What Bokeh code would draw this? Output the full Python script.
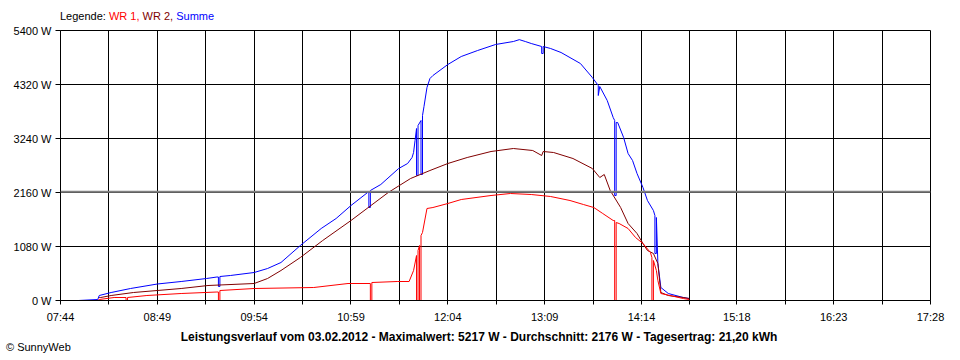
from bokeh.plotting import figure
from bokeh.layouts import column
from bokeh.models import FixedTicker, Span, Range1d, Div
from bokeh.embed import file_html
from bokeh.resources import INLINE

# ---------------- data ----------------
x_tick_labels = ["07:44", "08:49", "09:54", "10:59", "12:04", "13:09",
                 "14:14", "15:18", "16:23", "17:28"]
y_ticks = [0, 1080, 2160, 3240, 4320, 5400]
y_tick_labels = ["0 W", "1080 W", "2160 W", "3240 W", "4320 W", "5400 W"]
average_w = 2176

legend_prefix = "Legende:"
series_names = ["WR 1,", "WR 2,", "Summe"]
series_colors = ["#FF0000", "#800000", "#0000FF"]
footer_title = ("Leistungsverlauf vom 03.02.2012 - Maximalwert: 5217 W - "
                "Durchschnitt: 2176 W - Tagesertrag: 21,20 kWh")
copyright_text = "&copy; SunnyWeb"

summe_t = ["07:56", "08:09", "08:10", "08:18", "08:31", "08:49", "09:05", "09:22",
           "09:29", "09:30", "09:30", "09:31", "09:31", "09:38", "09:54", "10:03",
           "10:12", "10:25", "10:39", "10:49", "10:59", "11:11", "11:11", "11:12",
           "11:12", "11:19", "11:31", "11:37", "11:40", "11:41", "11:42", "11:43",
           "11:43", "11:44", "11:44", "11:46", "11:46", "11:47", "11:47", "11:48",
           "11:50", "11:52", "11:54", "12:04", "12:13", "12:24", "12:36", "12:48",
           "12:52", "12:56", "13:00", "13:07", "13:07", "13:08", "13:08", "13:13",
           "13:20", "13:33", "13:41", "13:45", "13:45", "13:46", "13:51", "13:55",
           "13:56", "13:56", "13:57", "13:57", "13:58", "14:02", "14:05", "14:08",
           "14:11", "14:15", "14:18", "14:22", "14:23", "14:23", "14:24", "14:24",
           "14:25", "14:27", "14:32", "14:42", "14:46"]
summe_w = [0, 20, 100, 160, 240, 330, 380, 440,
           470, 470, 280, 280, 480, 500, 560, 640,
           760, 1100, 1440, 1640, 1900, 2180, 1860, 1860,
           2200, 2320, 2640, 2740, 2860, 2960, 3200, 3440,
           2500, 2500, 3500, 3600, 2520, 2520, 3700, 3880,
           4260, 4440, 4500, 4720, 4880, 5000, 5120, 5180,
           5217, 5180, 5140, 5080, 4940, 4940, 5080, 5040,
           4960, 4740, 4460, 4300, 4100, 4280, 4000, 3660,
           3600, 2100, 2100, 3560, 3560, 3260, 2940, 2800,
           2540, 2260, 2000, 1800, 1700, 940, 940, 1660,
           740, 260, 140, 60, 40]

wr2_t = ["08:10", "08:11", "08:18", "08:33", "08:49", "09:05", "09:23", "09:54",
         "10:03", "10:12", "10:25", "10:40", "10:59", "11:24", "11:39", "11:52",
         "12:04", "12:17", "12:33", "12:48", "13:01", "13:07", "13:08", "13:15",
         "13:28", "13:41", "13:46", "13:49", "13:53", "14:00", "14:05", "14:11",
         "14:15", "14:18", "14:22", "14:25", "14:27", "14:32", "14:42", "14:46"]
wr2_w = [60, 60, 100, 160, 200, 240, 300, 340,
         440, 600, 860, 1200, 1600, 2160, 2440, 2600,
         2740, 2860, 2980, 3040, 3000, 2900, 2980, 2960,
         2840, 2640, 2460, 2520, 2200, 1860, 1540, 1340,
         1140, 1000, 940, 740, 160, 100, 60, 40]

wr1_t = ["08:09", "08:10", "08:20", "08:28", "08:28", "08:29", "08:29", "08:42",
         "09:05", "09:29", "09:30", "09:30", "09:31", "09:31", "09:54", "10:34",
         "10:57", "11:12", "11:12", "11:13", "11:13", "11:30", "11:38", "11:41",
         "11:43", "11:43", "11:44", "11:44", "11:45", "11:45", "11:46", "11:46",
         "11:47", "11:50", "11:54", "12:04", "12:13", "12:33", "12:46", "13:00",
         "13:13", "13:26", "13:35", "13:42", "13:48", "13:55", "13:56", "13:56",
         "13:57", "13:57", "13:59", "14:05", "14:10", "14:15", "14:20", "14:21",
         "14:21", "14:22", "14:22", "14:24", "14:25", "14:27", "14:42", "14:46"]
wr1_w = [0, 20, 60, 60, 0, 0, 60, 100,
         140, 170, 170, 0, 0, 200, 240, 260,
         340, 340, 0, 0, 360, 380, 380, 600,
         900, 0, 0, 1000, 1100, 0, 0, 1300,
         1360, 1840, 1860, 1940, 2020, 2100, 2140, 2120,
         2080, 2000, 1920, 1860, 1740, 1600, 1600, 0,
         0, 1560, 1540, 1440, 1260, 1140, 960, 860,
         0, 0, 800, 600, 400, 140, 40, 20]


def to_min(s):
    h, m = s.split(":")
    return int(h) * 60 + int(m)


FONT = "Liberation Sans"
W = 960

x_ticks = [to_min(s) for s in x_tick_labels]
x_minor = [(a + b) / 2 for a, b in zip(x_ticks[:-1], x_ticks[1:])]

# ---------------- header (legend) ----------------
legend_html = (
    f'<div style="position:relative;width:{W}px;height:22px;'
    f'font-family:\'{FONT}\';font-size:11px;color:black;">'
    f'<span style="position:absolute;left:60px;top:10px;line-height:13px;'
    f'white-space:nowrap;">{legend_prefix} '
    + " ".join(f'<span style="color:{c}">{n}</span>'
               for n, c in zip(series_names, series_colors))
    + '</span></div>'
)
head = Div(text=legend_html, width=W, height=22, margin=(0, 0, 0, 0))

# ---------------- main chart ----------------
p = figure(width=W, height=308, output_backend="svg", toolbar_location=None,
           x_range=Range1d(x_ticks[0], x_ticks[-1]), y_range=Range1d(0, 5400),
           min_border_left=60, min_border_right=30, min_border_top=8,
           min_border_bottom=30)
p.background_fill_color = "white"
p.border_fill_color = "white"
p.outline_line_color = "black"

xt = FixedTicker(ticks=x_ticks, minor_ticks=x_minor)
p.xaxis.ticker = xt
p.xgrid.ticker = xt
p.xaxis.major_label_overrides = {t: l for t, l in zip(x_ticks, x_tick_labels)}
p.yaxis.ticker = FixedTicker(ticks=y_ticks, minor_ticks=[])
p.yaxis.major_label_overrides = {t: l for t, l in zip(y_ticks, y_tick_labels)}

for ax in (p.xaxis[0], p.yaxis[0]):
    ax.axis_line_color = "black"
    ax.major_tick_line_color = "black"
    ax.major_tick_in = 0
    ax.major_label_text_font = FONT
    ax.major_label_text_font_size = "11px"
    ax.major_label_text_color = "black"
p.xaxis.major_tick_out = 4
p.xaxis.minor_tick_out = 4
p.xaxis.minor_tick_in = 0
p.xaxis.minor_tick_line_color = "black"
p.xaxis.major_label_standoff = 6
p.yaxis.major_tick_out = 5
p.yaxis.minor_tick_line_color = None
p.yaxis.major_label_standoff = 4

p.xgrid.grid_line_color = "black"
p.xgrid.minor_grid_line_color = "black"
p.ygrid.grid_line_color = "black"

p.add_layout(Span(location=average_w, dimension="width",
                  line_color="#808080", line_width=2))

p.line([to_min(t) for t in summe_t], summe_w, line_color="#0000FF", line_width=1)
p.line([to_min(t) for t in wr2_t], wr2_w, line_color="#800000", line_width=1)
p.line([to_min(t) for t in wr1_t], wr1_w, line_color="#FF0000", line_width=1)

# ---------------- footer ----------------
footer_html = (
    f'<div style="position:relative;width:{W}px;height:30px;'
    f'font-family:\'{FONT}\';color:black;">'
    f'<div style="position:absolute;left:0px;top:0px;width:958px;'
    f'text-align:center;font-size:12px;font-weight:bold;line-height:14px;'
    f'white-space:nowrap;">{footer_title}</div>'
    f'<div style="position:absolute;left:6px;top:11px;font-size:11px;'
    f'line-height:13px;white-space:nowrap;">{copyright_text}</div>'
    '</div>'
)
foot = Div(text=footer_html, width=W, height=30, margin=(0, 0, 0, 0))

layout = column(head, p, foot, spacing=0)
open("out.html", "w").write(file_html(layout, INLINE))
